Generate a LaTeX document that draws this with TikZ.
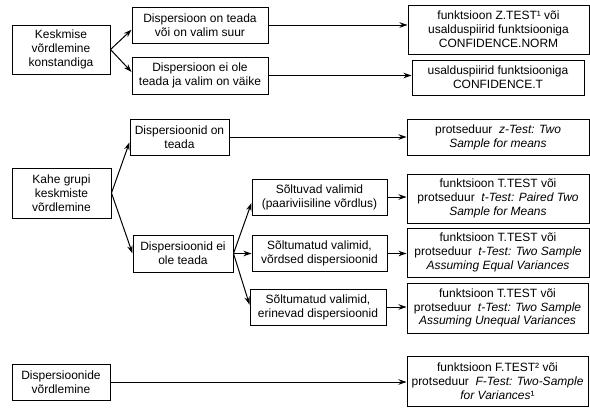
\documentclass[tikz,border=0pt]{standalone}
\usepackage{fontspec}
\setmainfont{Liberation Sans}
\usepackage{tikz}
\usetikzlibrary{arrows.meta}

\begin{document}
\begin{tikzpicture}[x=1pt, y=-1pt,
  box/.style={draw, line width=1pt, align=center, inner sep=1pt,
              font=\fontsize{12}{13.8}\selectfont},
  arr/.style={-{Stealth[length=8pt, width=5.5pt]}, line width=1pt}]
  \useasboundingbox (0,0) rectangle (590,410);
  % mean vs constant
  \node[box, minimum width=98, minimum height=49] (A) at (61,49.5)
    {Keskmise\\võrdlemine\\konstandiga};
  \node[box, minimum width=136, minimum height=36] (B1) at (200,25)
    {Dispersioon on teada\\või on valim suur};
  \node[box, minimum width=136, minimum height=37] (B2) at (200,75.5)
    {Dispersioon ei ole\\teada ja valim on väike};
  \node[box, minimum width=181, minimum height=49] (C1) at (498.5,29.5)
    {funktsioon Z.TEST¹ või\\usalduspiirid funktsiooniga\\CONFIDENCE.NORM};
  \node[box, minimum width=172, minimum height=35] (C2) at (498,77.5)
    {usalduspiirid funktsiooniga\\CONFIDENCE.T};
  \draw[arr] (A.east) -- (B1.184);
  \draw[arr] (A.east) -- (B2.177);
  \draw[arr] (B1.east) -- (B1.east -| C1.west);
  \draw[arr] (B2.east) -- (B2.east -| C2.west);
  % two groups
  \node[box, minimum width=99, minimum height=50] (D) at (61.5,193)
    {Kahe grupi\\keskmiste\\võrdlemine};
  \node[box, minimum width=99, minimum height=36] (E1) at (179.5,137)
    {Dispersioonid on\\teada};
  \node[box, minimum width=100, minimum height=37] (E2) at (183,253.5)
    {Dispersioonid ei\\ole teada};
  \node[box, minimum width=135, minimum height=36] (F1) at (319.5,197)
    {Sõltuvad valimid\\(paariviisiline võrdlus)};
  \node[box, minimum width=135, minimum height=36] (F2) at (319.5,253.5)
    {Sõltumatud valimid,\\võrdsed dispersioonid};
  \node[box, minimum width=136, minimum height=36] (F3) at (318,307)
    {Sõltumatud valimid,\\erinevad dispersioonid};
  \node[box, minimum width=182, minimum height=36] (G1) at (498,137)
    {protseduur\ \ \textit{z-Test: Two}\\\textit{Sample for means}};
  \node[box, minimum width=182, minimum height=49] (G2) at (498,198.5)
    {funktsioon T.TEST või\\protseduur\ \ \textit{t-Test: Paired Two}\\\textit{Sample for Means}};
  \node[box, minimum width=182, minimum height=49] (G3) at (498,252.5)
    {funktsioon T.TEST või\\protseduur\ \ \textit{t-Test: Two Sample}\\\textit{Assuming Equal Variances}};
  \node[box, minimum width=181, minimum height=50] (G4) at (497.5,308)
    {funktsioon T.TEST või\\protseduur\ \ \textit{t-Test: Two Sample}\\\textit{Assuming Unequal Variances}};
  \draw[arr] (D.east) -- (E1.186);
  \draw[arr] (D.east) -- (E2.west);
  \draw[arr] (E2.east) -- (F1.185);
  \draw[arr] (E2.east) -- (F2.west);
  \draw[arr] (E2.east) -- (F3.178);
  \draw[arr] (E1.east) -- (E1.east -| G1.west);
  \draw[arr] (F1.east) -- (F1.east -| G2.west);
  \draw[arr] (F2.east) -- (F2.east -| G3.west);
  \draw[arr] (F3.east) -- (F3.east -| G4.west);
  % variances
  \node[box, minimum width=98, minimum height=36] (H) at (61,382)
    {Dispersioonide\\võrdlemine};
  \node[box, minimum width=181, minimum height=50] (G5) at (497.5,381)
    {funktsioon F.TEST² või\\protseduur\ \ \textit{F-Test: Two-Sample}\\\textit{for Variances}¹};
  \draw[arr] (H.east) -- (H.east -| G5.west);
\end{tikzpicture}
\end{document}
